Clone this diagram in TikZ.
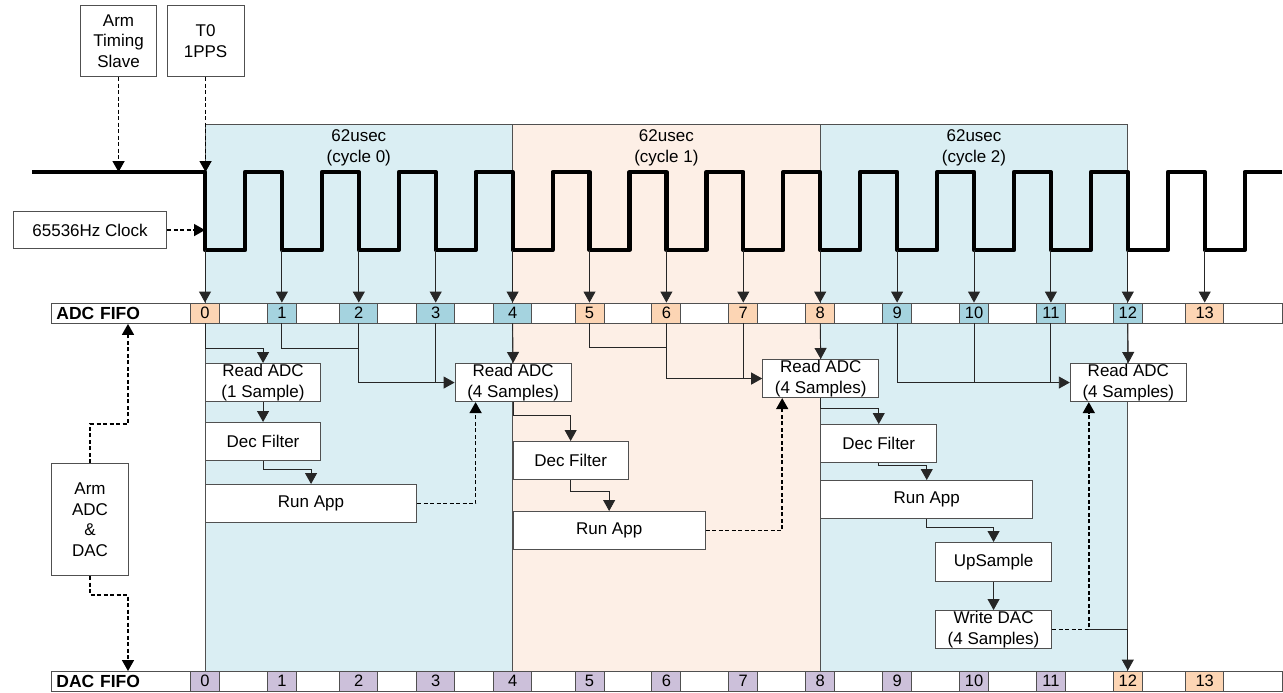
\documentclass[tikz,border=0pt]{standalone}
\usepackage{fontspec}
\setmainfont{Liberation Sans}
\usetikzlibrary{arrows.meta,calc}
\definecolor{regblue}{HTML}{DAEEF3}
\definecolor{regorange}{HTML}{FDEFE6}
\definecolor{cellblue}{HTML}{A5D3DF}
\definecolor{cellorange}{HTML}{FCD5B4}
\definecolor{cellpurple}{HTML}{CCC0DA}
\definecolor{edgec}{HTML}{505050}
\begin{document}
\begin{tikzpicture}[x=1pt,y=-1pt,
 txt/.style={font=\fontsize{17pt}{20.5pt}\selectfont},
 box/.style={draw=edgec, line width=1.1pt, fill=white, inner sep=0pt, align=center, anchor=north west, txt},
 region/.style={draw=edgec, line width=0.8pt},
 conn/.style={draw=black!85, line width=0.9pt, -{Triangle[width=12pt,length=11pt]}},
 plain/.style={draw=black!85, line width=0.9pt},
 dconn/.style={draw=black, line width=1.6pt, dash pattern=on 4pt off 2.5pt, -{Triangle[width=12pt,length=11pt]}},
 wave/.style={draw=black, line width=4.2pt, line join=round},
 cell/.style={draw=edgec, line width=0.9pt, minimum height=20pt, inner sep=0pt, font=\fontsize{16.5pt}{18pt}\selectfont},
 fifo/.style={draw=edgec, line width=0.9pt, fill=white, anchor=north west, minimum height=20pt, inner sep=0pt},
 fifolab/.style={fifo, text width=129pt, inner xsep=5pt, align=left, font=\fontsize{17.5pt}{20pt}\selectfont\bfseries},
]
\useasboundingbox (0,0) rectangle (1283,693);

% cycle regions
\draw[region, fill=regblue] (205,124) rectangle (512.6,671);
\draw[region, fill=regorange] (512.6,124) rectangle (820.2,671);
\draw[region, fill=regblue] (820.2,124) rectangle (1127.8,671);
\node[txt, align=center] (lab0) at (358.8,148) {62usec\\(cycle 0)};
\node[txt, align=center] (lab1) at (666.4,148) {62usec\\(cycle 1)};
\node[txt, align=center] (lab2) at (974,148) {62usec\\(cycle 2)};

% clock waveform
\coordinate (hi0) at (32,172);
\draw[wave] (hi0) foreach \k in {0,...,13} { -- ({205+76.9*\k},172) -- ({205+76.9*\k},250) -- ({245+76.9*\k},250) -- ({245+76.9*\k},172) } -- (1282,172);
\foreach \k in {0,...,13} { \coordinate (ck\k) at ({205+76.9*\k},250); }

% ADC FIFO
\node[fifo, minimum width=1231pt] (adcrow) at (51,303) {};
\node[fifolab] (adclab) at (51,303) {ADC FIFO};
\foreach \k/\w/\c in {0/29/cellorange,1/29/cellblue,2/38/cellblue,3/38/cellblue,4/38/cellblue,5/29/cellorange,6/29/cellorange,7/29/cellorange,8/29/cellorange,9/29/cellblue,10/29/cellblue,11/29/cellblue,12/29/cellblue,13/38/cellorange}
  { \node[cell, fill=\c, minimum width=\w pt] (adc\k) at ({205+76.9*\k},313) {\k}; }

% DAC FIFO
\node[fifo, minimum width=1231pt] (dacrow) at (51,671) {};
\node[fifolab] (daclab) at (51,671) {DAC FIFO};
\foreach \k/\w/\c in {0/29/cellpurple,1/29/cellpurple,2/38/cellpurple,3/38/cellpurple,4/38/cellpurple,5/29/cellpurple,6/29/cellpurple,7/29/cellpurple,8/29/cellpurple,9/29/cellpurple,10/29/cellpurple,11/29/cellpurple,12/29/cellorange,13/38/cellorange}
  { \node[cell, fill=\c, minimum width=\w pt] (dac\k) at ({205+76.9*\k},681) {\k}; }

% clock to ADC FIFO arrows
\foreach \k in {0,...,13} { \draw[conn] (ck\k) -- (adc\k.north); }

% boxes
\node[box, minimum width=76pt, minimum height=71pt] (ats) at (80,5) {Arm\\Timing\\Slave};
\node[box, minimum width=77pt, minimum height=71pt] (t0) at (166.5,5) {T0\\1PPS};
\node[box, minimum width=153pt, minimum height=37pt] (clk) at (13,211) {65536Hz Clock};
\node[box, minimum width=77pt, minimum height=112pt] (armadc) at (51,463) {Arm\\ADC\\\&\\DAC};

\node[box, minimum width=115pt, minimum height=38pt] (ra0) at (205,363) {Read ADC\\(1 Sample)};
\node[box, minimum width=115pt, minimum height=38pt] (df0) at (205,422) {Dec Filter};
\node[box, minimum width=211pt, minimum height=38pt] (app0) at (205,484) {Run App};
\node[box, minimum width=116pt, minimum height=38pt] (ra1) at (454.6,363) {Read ADC\\(4 Samples)};

\node[box, minimum width=115pt, minimum height=38pt] (df1) at (512.6,441) {Dec Filter};
\node[box, minimum width=192pt, minimum height=38pt] (app1) at (512.6,511) {Run App};
\node[box, minimum width=116pt, minimum height=38pt] (ra2) at (762.2,359) {Read ADC\\(4 Samples)};

\node[box, minimum width=116pt, minimum height=38pt] (df2) at (820.2,424) {Dec Filter};
\node[box, minimum width=212pt, minimum height=38pt] (app2) at (820.2,480) {Run App};
\node[box, minimum width=116pt, minimum height=39pt] (up) at (935,542) {UpSample};
\node[box, minimum width=116pt, minimum height=38pt] (wd) at (935,610) {Write DAC\\(4 Samples)};
\node[box, minimum width=116pt, minimum height=38pt] (ra3) at (1069.8,363) {Read ADC\\(4 Samples)};

% top dashed inputs
\draw[dconn] (ats.south) -- (ats.south |- hi0);
\draw[dconn] (t0.south) -- (t0.south |- hi0);
\draw[dconn] (clk.east) -- (clk.east -| ck0);

% cycle 0
\draw[conn] (adc0.south) |- ($(ra0.north)+(0,-15)$) -- (ra0.north);
\draw[conn] (ra0.south) -- (df0.north);
\draw[conn] (df0.south) -- ++(0,8) -| (app0.north);
\draw[dconn] (app0.east) -| ($(ra1.south west)+(21,0)$);
\draw[conn] (adc1.south) |- ($(adc2.south)+(0,25)$) |- (ra1.west);
\draw[plain] (adc2.south) -- (adc2.south |- ra1.west);
\draw[plain] (adc3.south) -- (adc3.south |- ra1.west);
\draw[conn] (adc4.south) -- (ra1.north);

% cycle 1
\draw[conn] (ra1.south) |- ($(df1.north)+(0,-26)$) -- (df1.north);
\draw[conn] (df1.south) -- ++(0,11) -| (app1.north);
\draw[dconn] (app1.east) -| ($(ra2.south west)+(20,0)$);
\draw[conn] (adc5.south) |- ($(adc6.south)+(0,24)$) |- (ra2.west);
\draw[plain] (adc6.south) -- (adc6.south |- ra2.west);
\draw[plain] (adc7.south) -- (adc7.south |- ra2.west);
\draw[conn] (adc8.south) -- (ra2.north);

% cycle 2
\draw[conn] (ra2.south) |- ($(df2.north)+(0,-16)$) -- (df2.north);
\draw[conn] (df2.south) -- ++(0,2.5) -| (app2.north);
\draw[conn] (app2.south) -- ++(0,8) -| (up.north);
\draw[conn] (up.south) -- (wd.north);
\path ($(ra3.south west)+(19,0)$) coordinate (dtip);
\coordinate (wdj) at (dtip |- wd.east);
\draw[conn] (wdj) -| (dac12.north);
\draw[dconn] (wd.east) -| (dtip);
\draw[conn] (adc9.south) |- (ra3.west);
\draw[plain] (adc10.south) -- (adc10.south |- ra3.west);
\draw[plain] (adc11.south) -- (adc11.south |- ra3.west);
\draw[conn] (adc12.south) -- (ra3.north);

% arm ADC & DAC
\draw[dconn] (armadc.north) -- ++(0,-39) -| ($(adclab.south west)+(77,0)$);
\draw[dconn] (armadc.south) -- ++(0,19) -| ($(daclab.north west)+(77,0)$);
\end{tikzpicture}
\end{document}
